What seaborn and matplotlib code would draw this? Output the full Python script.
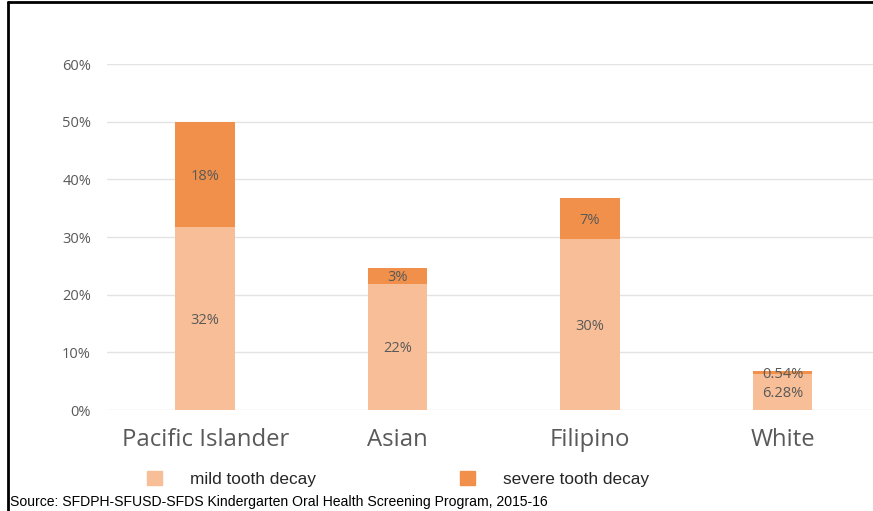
import matplotlib
matplotlib.use("Agg")
import matplotlib.pyplot as plt
from matplotlib.lines import Line2D
from matplotlib.patches import Patch
import seaborn as sns
import pandas as pd

# data
groups = ["Pacific Islander", "Asian", "Filipino", "White"]
mild = [31.8, 21.9, 29.6, 6.28]
severe = [18.2, 2.8, 7.1, 0.54]
mild_labels = ["32%", "22%", "30%", "6.28%"]
severe_labels = ["18%", "3%", "7%", "0.54%"]
yticks = [0, 10, 20, 30, 40, 50, 60]

df = pd.DataFrame({"group": groups, "mild": mild, "severe": severe})
df["total"] = df["mild"] + df["severe"]

c_mild = "#F7BE97"
c_severe = "#F0904A"
grey = "#595959"

sns.set_theme(style="white")
plt.rcParams["font.family"] = ["Open Sans", "DejaVu Sans"]

fig = plt.figure(figsize=(8.73, 5.11), dpi=100)
ax = fig.add_axes([107 / 873, 1 - 410 / 511, 1 - 107 / 873, (410 - 64) / 511])

# stacked bars: total first (severe colour), mild drawn on top
sns.barplot(data=df, x="group", y="total", color=c_severe, width=0.31,
            saturation=1, linewidth=0, ax=ax)
sns.barplot(data=df, x="group", y="mild", color=c_mild, width=0.31,
            saturation=1, linewidth=0, ax=ax)

for i, row in df.iterrows():
    ax.text(i, row["mild"] / 2, mild_labels[i], ha="center",
            va="center_baseline", fontsize=10.5, color=grey)
    ax.text(i, row["mild"] + row["severe"] / 2, severe_labels[i], ha="center",
            va="center_baseline", fontsize=10.5, color=grey)

ax.set_xlim(-0.51, 3.47)
ax.set_ylim(0, 60)
ax.set_yticks(yticks)
ax.set_yticklabels([f"{t}%" for t in yticks], fontsize=10.5, color=grey)
ax.tick_params(axis="y", length=0, pad=11.5)
ax.tick_params(axis="x", length=0, pad=13, labelsize=17.2, labelcolor=grey)
ax.set_xlabel("")
ax.set_ylabel("")
ax.yaxis.grid(True, color="#E3E3E3", linewidth=1)
ax.set_axisbelow(True)
for s in ax.spines.values():
    s.set_visible(False)

handles = [Patch(color=c_mild, label="mild tooth decay"),
           Patch(color=c_severe, label="severe tooth decay")]
fig.legend(handles=handles, loc="center left", ncol=2,
           bbox_to_anchor=(147 / 873, 1 - 479 / 511), frameon=False,
           borderpad=0, borderaxespad=0,
           handlelength=0.87, handleheight=0.87, handletextpad=1.6,
           columnspacing=8.4,
           prop={"family": ["Liberation Sans", "DejaVu Sans"], "size": 12.4})

fig.text(10 / 873, 1 - 502 / 511,
         "Source: SFDPH-SFUSD-SFDS Kindergarten Oral Health Screening Program, 2015-16",
         ha="left", va="center", fontsize=10.05,
         family=["Liberation Sans", "DejaVu Sans"], color="black")

# black frame on top and left, like the reference
fig.add_artist(Line2D([7.5 / 873, 1], [1 - 2.5 / 511, 1 - 2.5 / 511],
                      color="black", linewidth=2, transform=fig.transFigure))
fig.add_artist(Line2D([7.5 / 873, 7.5 / 873], [0, 1 - 2.5 / 511],
                      color="black", linewidth=2, transform=fig.transFigure))

fig.savefig("out.png", dpi=100)
